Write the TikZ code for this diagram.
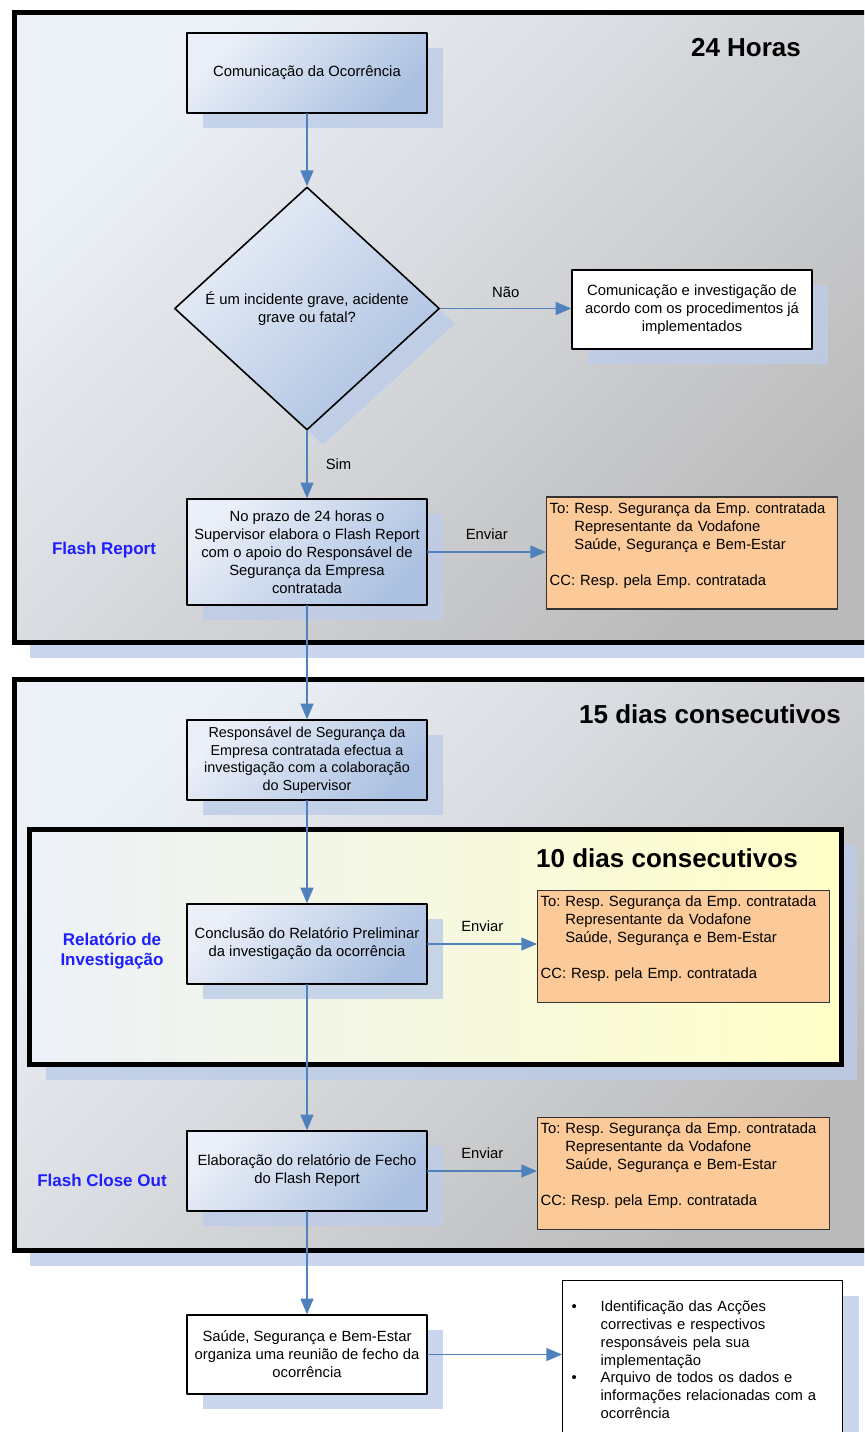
\documentclass[tikz,border=0pt]{standalone}
\usepackage{fontspec}
\setmainfont{Liberation Sans}
\usepackage{tikz}
\usetikzlibrary{arrows}
\usetikzlibrary{shapes.geometric}
\usetikzlibrary{shadows}
\definecolor{boxlight}{RGB}{234,239,248}
\definecolor{boxdark}{RGB}{172,193,225}
\definecolor{framelight}{RGB}{236,241,248}
\definecolor{framedark}{RGB}{186,186,186}
\definecolor{yellowpale}{RGB}{255,255,200}
\definecolor{sendorange}{RGB}{251,202,152}
\definecolor{linkblue}{RGB}{79,129,189}
\definecolor{phaseblue}{RGB}{30,30,255}
\definecolor{shadowblue}{RGB}{188,204,232}

\begin{document}
\begin{tikzpicture}[line cap=round,line join=round,>=triangle 45,x=0.5pt,y=-0.5pt,
  boxshadow/.style={drop shadow={shadow xshift=8pt,shadow yshift=-7.5pt,fill=shadowblue,opacity=.8}},
  smalltext/.style={font=\fontsize{7.4}{9}\selectfont\frenchspacing},
  stepbox/.style={draw=black,line width=0.7pt,top color=boxlight,bottom color=boxdark,shading angle=45,
    boxshadow,smalltext,align=center,minimum width=120pt,minimum height=40pt,inner sep=1pt},
  sendbox/.style={draw=black!80,line width=0.7pt,fill=sendorange,smalltext,align=left,anchor=west,
    inner xsep=1.5pt,inner ysep=0pt,minimum height=56pt},
  notebox/.style={draw=black,line width=0.7pt,fill=white,boxshadow,smalltext},
  phaseframe/.style={draw=black,line width=2.5pt,line cap=butt,line join=miter,
    drop shadow={shadow xshift=8pt,shadow yshift=-8pt,fill=shadowblue,opacity=.8}},
  timelabel/.style={font=\fontsize{13}{15}\bfseries},
  phaselabel/.style={text=phaseblue,align=center,font=\fontsize{8.5}{10}\bfseries},
  conn/.style={->,draw=linkblue,line width=0.8pt},
  edgelabel/.style={smalltext,inner sep=1pt}]
\useasboundingbox (0,0) rectangle (864,1432);
\clip (0,0) rectangle (864,1432);

% phase frames
\draw[phaseframe,top color=framelight,bottom color=framedark,shading angle=45] (14,12) rectangle (900,642);
\draw[phaseframe,top color=framelight,bottom color=framedark,shading angle=45] (14,679) rectangle (900,1250);
\draw[phaseframe,left color=framelight,right color=yellowpale] (29.5,829) rectangle (841,1064);

\node[timelabel] (t24) at (746,48) {24 Horas};
\node[timelabel] (t15) at (710,714) {15 dias consecutivos};
\node[timelabel] (t10) at (667,858) {10 dias consecutivos};

\node[phaselabel] (pflash) at (104,550) {Flash Report};
\node[phaselabel] (prel) at (112,951) {Relatório de\\Investigação};
\node[phaselabel] (pclose) at (102,1180) {Flash Close Out};

% flow steps
\node[stepbox] (com) at (307,73) {Comunicação da Ocorrência};
\node[draw=black,line width=0.8pt,shape=diamond,minimum width=132.5pt,minimum height=121.5pt,inner sep=0pt,
  top color=boxlight,bottom color=boxdark,shading angle=45,boxshadow,smalltext,align=center]
  (dec) at (307,308.5) {É um incidente grave, acidente\\grave ou fatal?};
\node[notebox,align=center,minimum width=120pt,minimum height=39.5pt,inner sep=1pt] (nao) at (692,309.5)
  {Comunicação e investigação de\\acordo com os procedimentos já\\implementados};
\node[stepbox,minimum height=53pt] (flash) at (307,552)
  {No prazo de 24 horas o\\Supervisor elabora o Flash Report\\com o apoio do Responsável de\\Segurança da Empresa\\contratada};
\node[sendbox,text width=142.5pt] (toflash) at (546,553)
  {To: Resp. Segurança da Emp. contratada\\\hphantom{To: }Representante da Vodafone\\\hphantom{To: }Saúde, Segurança e Bem-Estar\\~\\CC: Resp. pela Emp. contratada\\~};
\node[stepbox,font=\fontsize{7.2}{8.8}\selectfont] (resp) at (307,760)
  {Responsável de Segurança da\\Empresa contratada efectua a\\investigação com a colaboração\\do Supervisor};
\node[stepbox] (concl) at (307,944)
  {Conclusão do Relatório Preliminar\\da investigação da ocorrência};
\node[sendbox,text width=143pt] (toconcl) at (537,946.5)
  {To: Resp. Segurança da Emp. contratada\\\hphantom{To: }Representante da Vodafone\\\hphantom{To: }Saúde, Segurança e Bem-Estar\\~\\CC: Resp. pela Emp. contratada\\~};
\node[stepbox] (elab) at (307,1171)
  {Elaboração do relatório de Fecho\\do Flash Report};
\node[sendbox,text width=143pt] (toelab) at (537,1173.5)
  {To: Resp. Segurança da Emp. contratada\\\hphantom{To: }Representante da Vodafone\\\hphantom{To: }Saúde, Segurança e Bem-Estar\\~\\CC: Resp. pela Emp. contratada\\~};
\node[stepbox,fill=white,top color=white,bottom color=white,minimum height=39.5pt] (saude) at (307,1354.5)
  {Saúde, Segurança e Bem-Estar\\organiza uma reunião de fecho da\\ocorrência};
\node[notebox,anchor=north west,align=left,text width=131pt,minimum width=140pt,minimum height=79pt,
  inner xsep=4.5pt,font=\fontsize{7.4}{8.85}\selectfont] (acoes) at (562,1280)
  {\makebox[14.5pt][l]{\textbullet}Identificação das Acções\\
   \hspace*{14.5pt}correctivas e respectivos\\
   \hspace*{14.5pt}responsáveis pela sua\\
   \hspace*{14.5pt}implementação\\
   \makebox[14.5pt][l]{\textbullet}Arquivo de todos os dados e\\
   \hspace*{14.5pt}informações relacionadas com a\\
   \hspace*{14.5pt}ocorrência};

% connectors
\draw[conn] (com) -- (dec);
\draw[conn] (dec.east) -- node[edgelabel,above=4pt] (lnao) {Não} (dec.east -| nao.west);
\draw[conn] (dec) -- node[edgelabel,right=8pt] (lsim) {Sim} (flash);
\draw[conn] (flash.east) -- node[edgelabel,above=5pt] (lenv1) {Enviar} (flash.east -| toflash.west);
\draw[conn] (flash) -- (resp);
\draw[conn] (resp) -- (concl);
\draw[conn] (concl.east) -- node[edgelabel,above=5pt] (lenv2) {Enviar} (concl.east -| toconcl.west);
\draw[conn] (concl) -- (elab);
\draw[conn] (elab.east) -- node[edgelabel,above=5pt] (lenv3) {Enviar} (elab.east -| toelab.west);
\draw[conn] (elab) -- (saude);
\draw[conn] (saude.east) -- (saude.east -| acoes.west);
\end{tikzpicture}
\end{document}
